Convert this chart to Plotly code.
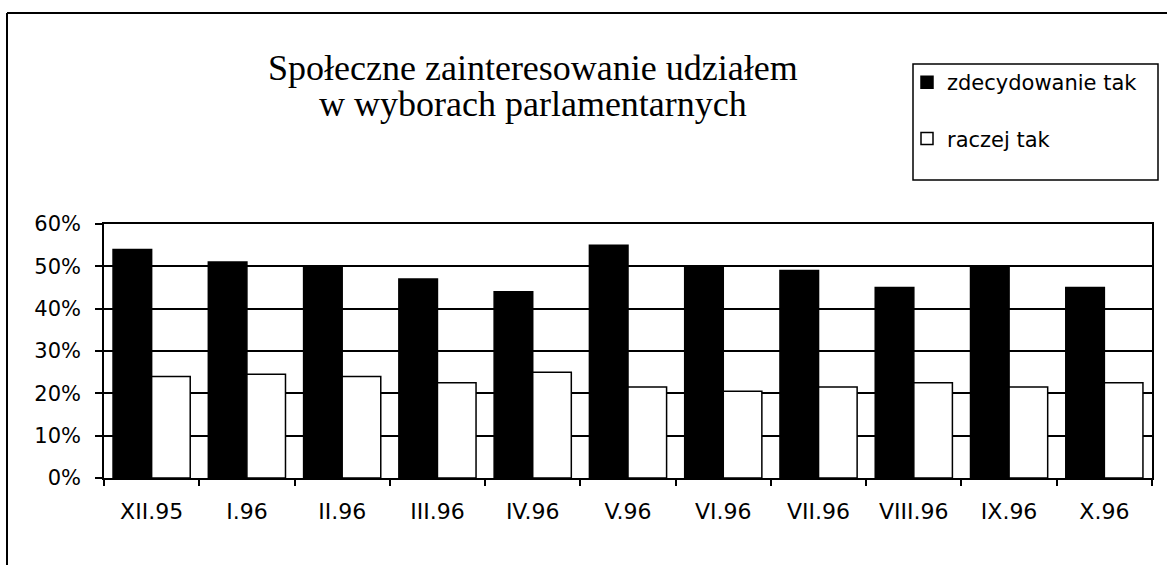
import plotly.graph_objects as go

categories = ["XII.95", "I.96", "II.96", "III.96", "IV.96", "V.96", "VI.96",
              "VII.96", "VIII.96", "IX.96", "X.96"]
zdecydowanie_tak = [54, 51, 50, 47, 44, 55, 50, 49, 45, 50, 45]
raczej_tak = [24, 24.5, 24, 22.5, 25, 21.5, 20.5, 21.5, 22.5, 21.5, 22.5]
series_names = ["zdecydowanie tak", "raczej tak"]
title_lines = ["Społeczne zainteresowanie udziałem", "w wyborach parlamentarnych"]

W, H = 1167, 565
L, R, T, B = 104, 1152, 224, 478  # plot area in pixels


def px(x):
    return (x - L) / (R - L)


def py(y):
    return (B - y) / (B - T)


fig = go.Figure()
fig.add_trace(go.Bar(x=categories, y=zdecydowanie_tak, name=series_names[0],
                     marker=dict(color="black", line=dict(color="black", width=1.5)),
                     legendgroup="a"))
fig.add_trace(go.Bar(x=categories, y=raczej_tak, name=series_names[1],
                     marker=dict(color="white", line=dict(color="black", width=1.5)),
                     legendgroup="b"))

sans = "DejaVu Sans, Arial, sans-serif"
serif = "Liberation Serif, Times New Roman, serif"

fig.update_layout(
    width=W, height=H,
    margin=dict(l=L, r=W - R, t=T, b=H - B, pad=0),
    paper_bgcolor="white", plot_bgcolor="white",
    barmode="group", bargap=0.19, bargroupgap=0,
    font=dict(family=sans, color="black", size=21),
    showlegend=True,
    legend=dict(x=px(907), y=py(62), xanchor="left", yanchor="top",
                bgcolor="rgba(0,0,0,0)", borderwidth=0,
                font=dict(family=sans, size=21, color="black"),
                tracegroupgap=26, traceorder="grouped"),
    xaxis=dict(type="category", showgrid=False, showline=True, linecolor="black",
               linewidth=1.5, mirror=True, ticks="outside", tickson="boundaries",
               ticklen=6, tickcolor="black", tickwidth=1.5,
               ticklabelstandoff=13, tickfont=dict(family=sans, size=22)),
    yaxis=dict(range=[0, 60], tickmode="linear", tick0=0, dtick=10, ticksuffix="%",
               showgrid=True, gridcolor="black", gridwidth=1.5, showline=True,
               linecolor="black", linewidth=1.5, mirror=True, ticks="outside",
               ticklen=7, tickcolor="black", tickwidth=1.5, zeroline=False,
               ticklabelstandoff=10, tickfont=dict(family=sans, size=21)),
)

# outer chart frame
fig.add_shape(type="line", xref="paper", yref="paper", x0=px(7), x1=px(1167 + 5),
              y0=py(13), y1=py(13), line=dict(color="black", width=2))
fig.add_shape(type="line", xref="paper", yref="paper", x0=px(7), x1=px(7),
              y0=py(13), y1=py(570), line=dict(color="black", width=2))
# legend box
fig.add_shape(type="rect", xref="paper", yref="paper", x0=px(913), x1=px(1158),
              y0=py(180), y1=py(64), line=dict(color="black", width=1.5),
              fillcolor="rgba(0,0,0,0)")

# title lines
for text, yc in zip(title_lines, [68, 104]):
    fig.add_annotation(text=text, xref="paper", yref="paper", x=px(533), y=py(yc),
                       xanchor="center", yanchor="middle", showarrow=False,
                       font=dict(family=serif, size=36, color="black"))

fig.write_html("out.html", config={"displayModeBar": False},
               post_script="document.body.style.margin='0px';")
